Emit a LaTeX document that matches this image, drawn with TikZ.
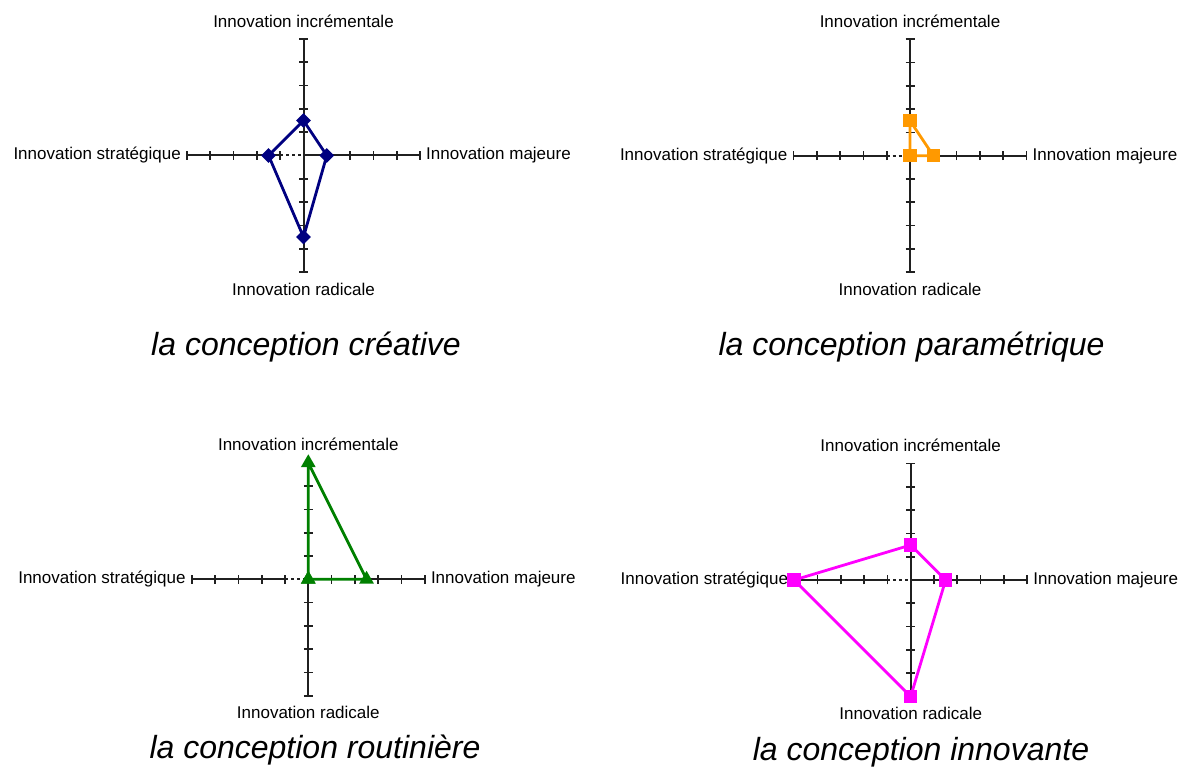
\documentclass[tikz,border=0pt]{standalone}
\usepackage{fontspec}
\setmainfont{Liberation Sans}
\usetikzlibrary{shapes.geometric}
\definecolor{navyc}{HTML}{000080}
\definecolor{orangec}{HTML}{FF9900}
\definecolor{greenc}{HTML}{008000}
\definecolor{magentac}{HTML}{FF00FF}
\definecolor{axisgray}{HTML}{202020}
\def\ru{23.3}
\tikzset{
  axisline/.style={draw=axisgray, line width=2pt},
  tickline/.style={draw=axisgray, line width=1.7pt},
  axlabel/.style={font=\fontsize{17}{20}\selectfont, text=black, inner sep=0pt},
  charttitle/.style={font=\fontsize{32}{38}\selectfont\itshape, text=black, inner sep=0pt},
  dataline/.style={line width=2.8pt, line join=round},
  diamondmark/.style={diamond, fill=navyc, inner sep=0pt, minimum width=15pt, minimum height=15pt},
  squaremark/.style={rectangle, inner sep=0pt, minimum size=13.5pt},
  trianglemark/.style={regular polygon, regular polygon sides=3, fill=greenc, inner sep=0pt, minimum size=17pt},
}
\newcommand\radaraxes[1]{%
  \draw[axisline] (-5*\ru,0) -- (-\ru,0);
  \draw[axisline, dash pattern=on 3pt off 3pt] (-\ru,0) -- (0,0);
  \draw[axisline] (0,0) -- (5*\ru,0);
  \draw[axisline] (0,-5*\ru) -- (0,5*\ru);
  \foreach \k in {-5,-4,-3,-2,-1,1,2,3,4,5} {
    \draw[tickline] (\k*\ru,-4.5) -- (\k*\ru,4.5);
    \draw[tickline] (-4.5,\k*\ru) -- (4.5,\k*\ru);
  }
  \node[axlabel] (#1-inc) at (0,5*\ru+18) {Innovation incrémentale};
  \node[axlabel] (#1-rad) at (0,-5*\ru-17) {Innovation radicale};
  \node[axlabel, anchor=east] (#1-str) at (-5*\ru-6,0) {Innovation stratégique};
  \node[axlabel, anchor=west] (#1-maj) at (5*\ru+6,0) {Innovation majeure};
}
\begin{document}
\begin{tikzpicture}[x=1pt,y=1pt]
\useasboundingbox (0,0) rectangle (1180,775);

% chart 1 : conception creative
\begin{scope}[shift={(303.5,619.5)}]
  \radaraxes{c1}
  \coordinate (c1a) at (0,1.5*\ru);
  \coordinate (c1b) at (1*\ru,0);
  \coordinate (c1c) at (0,-3.5*\ru);
  \coordinate (c1d) at (-1.5*\ru,0);
  \draw[dataline, navyc] (c1a) -- (c1b) -- (c1c) -- (c1d) -- cycle;
  \foreach \p in {c1a,c1b,c1c,c1d} \node[diamondmark] at (\p) {};
\end{scope}
\node[charttitle] (t1) at (306,428) {la conception créative};

% chart 2 : conception parametrique
\begin{scope}[shift={(910,619.3)}]
  \radaraxes{c2}
  \coordinate (c2a) at (0,1.5*\ru);
  \coordinate (c2b) at (1*\ru,0);
  \coordinate (c2c) at (0,0);
  \coordinate (c2d) at (0,0);
  \draw[dataline, orangec] (c2a) -- (c2b) -- (c2c) -- (c2d) -- cycle;
  \foreach \p in {c2a,c2b,c2c,c2d} \node[squaremark, fill=orangec] at (\p) {};
\end{scope}
\node[charttitle] (t2) at (911.5,428) {la conception paramétrique};

% chart 3 : conception routiniere
\begin{scope}[shift={(308.3,195.7)}]
  \radaraxes{c3}
  \coordinate (c3a) at (0,5*\ru);
  \coordinate (c3b) at (2.5*\ru,0);
  \coordinate (c3c) at (0,0);
  \coordinate (c3d) at (0,0);
  \draw[dataline, greenc] (c3a) -- (c3b) -- (c3c) -- (c3d) -- cycle;
  \foreach \p in {c3a,c3b,c3c,c3d} \node[trianglemark] at (\p) {};
\end{scope}
\node[charttitle] (t3) at (315,25) {la conception routinière};

% chart 4 : conception innovante
\begin{scope}[shift={(910.7,195)}]
  \radaraxes{c4}
  \coordinate (c4a) at (0,1.5*\ru);
  \coordinate (c4b) at (1.5*\ru,0);
  \coordinate (c4c) at (0,-5*\ru);
  \coordinate (c4d) at (-5*\ru,0);
  \draw[dataline, magentac] (c4a) -- (c4b) -- (c4c) -- (c4d) -- cycle;
  \foreach \p in {c4a,c4b,c4c,c4d} \node[squaremark, fill=magentac] at (\p) {};
\end{scope}
\node[charttitle] (t4) at (921,23) {la conception innovante};
\end{tikzpicture}
\end{document}
